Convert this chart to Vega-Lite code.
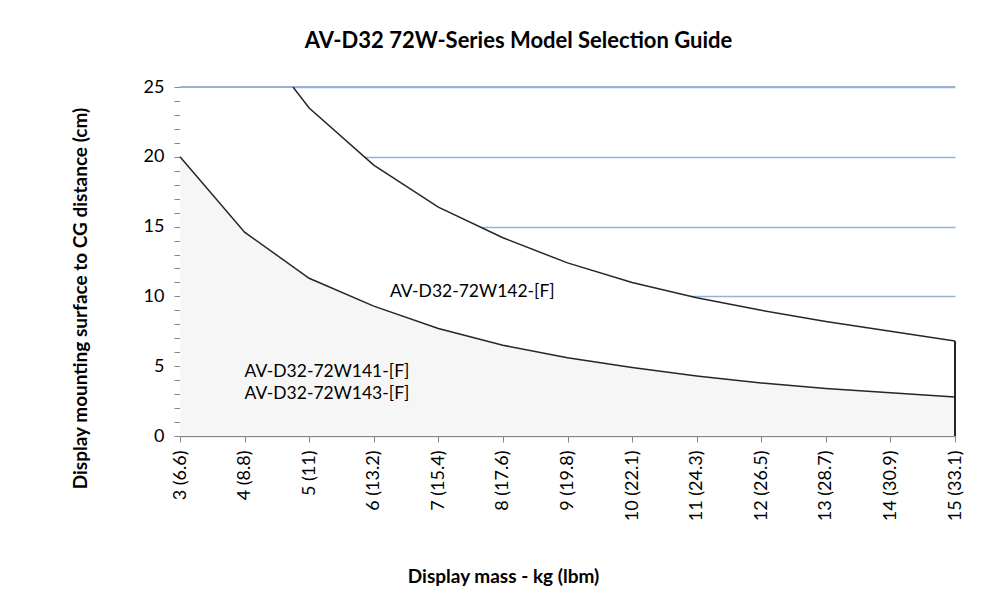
{
  "$schema": "https://vega.github.io/schema/vega-lite/v6.json",
  "width": 775,
  "height": 349,
  "autosize": {"type": "none"},
  "padding": {"left": 180, "top": 87, "right": 52, "bottom": 155},
  "background": "white",
  "config": {"view": {"stroke": null}, "font": "Lato"},
  "title": {"text": "AV-D32 72W-Series Model Selection Guide", "fontSize": 22, "fontWeight": "bold", "font": "Lato", "color": "#000000", "dx": -49, "offset": 25},
  "datasets": {
    "lower": [
      {"mass": 3, "cg": 20.0},
      {"mass": 4, "cg": 14.6},
      {"mass": 5, "cg": 11.3},
      {"mass": 6, "cg": 9.3},
      {"mass": 7, "cg": 7.7},
      {"mass": 8, "cg": 6.5},
      {"mass": 9, "cg": 5.6},
      {"mass": 10, "cg": 4.9},
      {"mass": 11, "cg": 4.3},
      {"mass": 12, "cg": 3.8},
      {"mass": 13, "cg": 3.4},
      {"mass": 14, "cg": 3.1},
      {"mass": 15, "cg": 2.8}
    ],
    "upper": [
      {"mass": 3, "cg": 25},
      {"mass": 4, "cg": 25},
      {"mass": 4.75, "cg": 25},
      {"mass": 5, "cg": 23.5},
      {"mass": 6, "cg": 19.4},
      {"mass": 7, "cg": 16.4},
      {"mass": 8, "cg": 14.2},
      {"mass": 9, "cg": 12.4},
      {"mass": 10, "cg": 11.0},
      {"mass": 11, "cg": 9.9},
      {"mass": 12, "cg": 9.0},
      {"mass": 13, "cg": 8.2},
      {"mass": 14, "cg": 7.5},
      {"mass": 15, "cg": 6.8}
    ],
    "labels": [
      {"mass": 6.25, "cg": 10.3, "text": "AV-D32-72W142-[F]"},
      {"mass": 4.0, "cg": 4.6, "text": "AV-D32-72W141-[F]"},
      {"mass": 4.0, "cg": 3.0, "text": "AV-D32-72W143-[F]"}
    ]
  },
  "layer": [
    {
      "data": {"name": "upper"},
      "mark": {"type": "area", "color": "white", "clip": true},
      "encoding": {
        "x": {
          "field": "mass", "type": "quantitative",
          "scale": {"domain": [3, 15], "nice": false, "zero": false},
          "axis": {
            "values": [3, 4, 5, 6, 7, 8, 9, 10, 11, 12, 13, 14, 15],
            "tickCount": 13,
            "labelExpr": "datum.value == 3 ? '3 (6.6)' : datum.value == 4 ? '4 (8.8)' : datum.value == 5 ? '5 (11)' : datum.value == 6 ? '6 (13.2)' : datum.value == 7 ? '7 (15.4)' : datum.value == 8 ? '8 (17.6)' : datum.value == 9 ? '9 (19.8)' : datum.value == 10 ? '10 (22.1)' : datum.value == 11 ? '11 (24.3)' : datum.value == 12 ? '12 (26.5)' : datum.value == 13 ? '13 (28.7)' : datum.value == 14 ? '14 (30.9)' : '15 (33.1)'",
            "labelAngle": -90,
            "labelAlign": "right",
            "labelBaseline": "middle",
            "labelFontSize": 18,
            "labelColor": "#000000",
            "labelPadding": 8,
            "labelFlush": false,
            "labelOverlap": false,
            "grid": false,
            "domainColor": "#868686",
            "tickColor": "#868686",
            "tickSize": 6,
            "title": "Display mass - kg (lbm)",
            "titleFontSize": 19,
            "titleFontWeight": "bold",
            "titleColor": "#000000",
            "titleX": 323,
            "titleY": 140,
            "titleBaseline": "middle",
            "titleAlign": "center"
          }
        },
        "y": {
          "field": "cg", "type": "quantitative",
          "scale": {"domain": [0, 25], "nice": false},
          "axis": {
            "values": [0, 1, 2, 3, 4, 5, 6, 7, 8, 9, 10, 11, 12, 13, 14, 15, 16, 17, 18, 19, 20, 21, 22, 23, 24, 25],
            "tickCount": 26,
            "labelExpr": "datum.value % 5 === 0 ? datum.label : ''",
            "labelOverlap": false,
            "labelFlush": false,
            "labelFontSize": 18,
            "labelColor": "#000000",
            "labelPadding": 10,
            "gridColor": "#95b3d7",
            "gridWidth": 1.5,
            "gridOpacity": {"condition": {"test": "datum.value % 5 === 0", "value": 1}, "value": 0},
            "domainColor": "#868686",
            "tickColor": "#868686",
            "tickSize": 6,
            "title": "Display mounting surface to CG distance (cm)",
            "titleFontSize": 19,
            "titleFontWeight": "bold",
            "titleColor": "#000000",
            "titleX": -100,
            "titleY": 211,
            "titleAngle": -90,
            "titleAlign": "center",
            "titleBaseline": "middle"
          }
        }
      }
    },
    {
      "data": {"name": "upper"},
      "mark": {"type": "rule", "color": "#95b3d7", "strokeWidth": 1.5},
      "encoding": {"y": {"datum": 25}}
    },
    {
      "data": {"name": "upper"},
      "transform": [{"filter": "datum.mass >= 4.75"}],
      "mark": {"type": "line", "color": "#262626", "strokeWidth": 1.5, "clip": true},
      "encoding": {
        "x": {"field": "mass", "type": "quantitative"},
        "y": {"field": "cg", "type": "quantitative"}
      }
    },
    {
      "data": {"name": "lower"},
      "mark": {"type": "area", "color": "#f2f2f2", "line": {"color": "#262626", "strokeWidth": 1.5}},
      "encoding": {
        "x": {"field": "mass", "type": "quantitative"},
        "y": {"field": "cg", "type": "quantitative"}
      }
    },
    {
      "data": {"name": "upper"},
      "mark": {"type": "rule", "color": "#262626", "strokeWidth": 1.5},
      "encoding": {"x": {"datum": 15}, "y": {"datum": 0}, "y2": {"datum": 6.8}}
    },
    {
      "data": {"name": "labels"},
      "mark": {"type": "text", "align": "left", "baseline": "middle", "fontSize": 17.5, "color": "#000000"},
      "encoding": {
        "x": {"field": "mass", "type": "quantitative"},
        "y": {"field": "cg", "type": "quantitative"},
        "text": {"field": "text"}
      }
    }
  ]
}
